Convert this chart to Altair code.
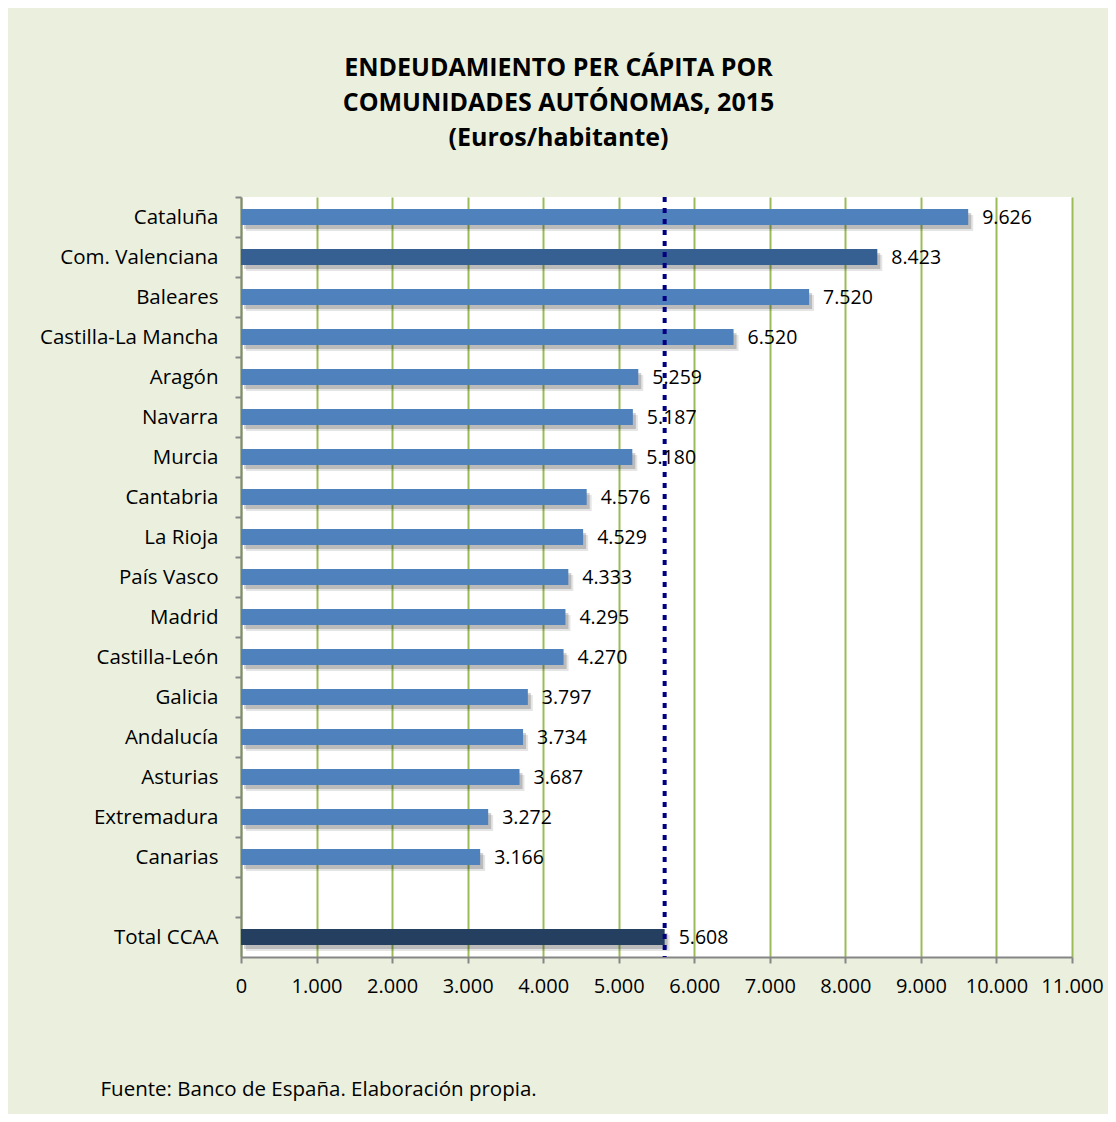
import altair as alt
import pandas as pd

regions = ["Cataluña", "Com. Valenciana", "Baleares", "Castilla-La Mancha", "Aragón",
           "Navarra", "Murcia", "Cantabria", "La Rioja", "País Vasco", "Madrid",
           "Castilla-León", "Galicia", "Andalucía", "Asturias", "Extremadura",
           "Canarias", "Total CCAA"]
values = [9626, 8423, 7520, 6520, 5259, 5187, 5180, 4576, 4529, 4333, 4295,
          4270, 3797, 3734, 3687, 3272, 3166, 5608]
groups = ["normal", "valenciana"] + ["normal"] * 15 + ["total"]
category_order = regions[:17] + [" "] + ["Total CCAA"]
x_ticks = [0, 1000, 2000, 3000, 4000, 5000, 6000, 7000, 8000, 9000, 10000, 11000]
average_value = 5608

df = pd.DataFrame({"region": regions, "value": values, "group": groups})
df["label"] = df["value"].map(lambda v: f"{v:,}".replace(",", "."))

font = "Open Sans"

x_enc = alt.X("value:Q",
              scale=alt.Scale(domain=[0, 11000], nice=False),
              axis=alt.Axis(values=x_ticks,
                            labelExpr="replace(format(datum.value, ','), ',', '.')",
                            labelOverlap=False, labelFlush=False,
                            grid=True, gridColor="#9bbb59", gridWidth=2,
                            domainColor="#868686", domainWidth=2,
                            tickColor="#868686", tickWidth=2, tickSize=6,
                            labelFontSize=20, labelFont=font, labelColor="#000000",
                            labelPadding=13,
                            title="Fuente: Banco de España. Elaboración propia.",
                            titleFont=font, titleFontSize=20.5, titleFontWeight="normal",
                            titleColor="#000000", titleAnchor="start", titleAlign="left",
                            titleX=-141, titleY=138, titleBaseline="alphabetic"))
y_enc = alt.Y("region:N",
              sort=category_order,
              scale=alt.Scale(domain=category_order, paddingInner=0.6, paddingOuter=0.3),
              axis=alt.Axis(title=None, grid=False, tickOffset=-20, labelOffset=20,
                            domainColor="#868686", domainWidth=2,
                            tickColor="#868686", tickWidth=2, tickSize=6,
                            labelFontSize=20.5, labelFont=font, labelColor="#000000",
                            labelPadding=17))

base = alt.Chart(df)

shadow1 = base.mark_bar(color="#000000", opacity=0.10, xOffset=5, yOffset=6).encode(x=x_enc, y=y_enc)
shadow2 = base.mark_bar(color="#000000", opacity=0.18, xOffset=3, yOffset=4).encode(x=x_enc, y=y_enc)

bars = base.mark_bar().encode(
    x=x_enc, y=y_enc,
    color=alt.Color("group:N",
                    scale=alt.Scale(domain=["normal", "valenciana", "total"],
                                    range=["#4f81bd", "#366092", "#243f60"]),
                    legend=None))

labels = base.mark_text(align="left", baseline="middle", dx=14, dy=1, fontSize=19.5,
                        font=font, color="#000000").encode(
    x="value:Q", y=alt.Y("region:N", sort=category_order), text="label:N")

avg_rule = alt.Chart(pd.DataFrame({"avg": [average_value]})).mark_rule(
    color="#000080", strokeWidth=4, strokeDash=[5, 6]).encode(x="avg:Q")

chart = alt.layer(shadow1, shadow2, bars, avg_rule, labels).properties(
    width=831, height=760,
    autosize=alt.AutoSizeParams(type="none"),
    padding={"left": 233, "top": 189, "right": 36, "bottom": 157},
    background="#ebf0de",
    title=alt.Title(["ENDEUDAMIENTO PER CÁPITA POR", "COMUNIDADES AUTÓNOMAS, 2015",
                     "(Euros/habitante)"],
                    font=font, fontSize=25, fontWeight="bold", color="#000000",
                    anchor="middle", dx=-98, offset=44, lineHeight=35),
).configure_view(stroke=None, fill="white")

chart.save("out.html", embed_options={"renderer": "svg", "actions": False})
